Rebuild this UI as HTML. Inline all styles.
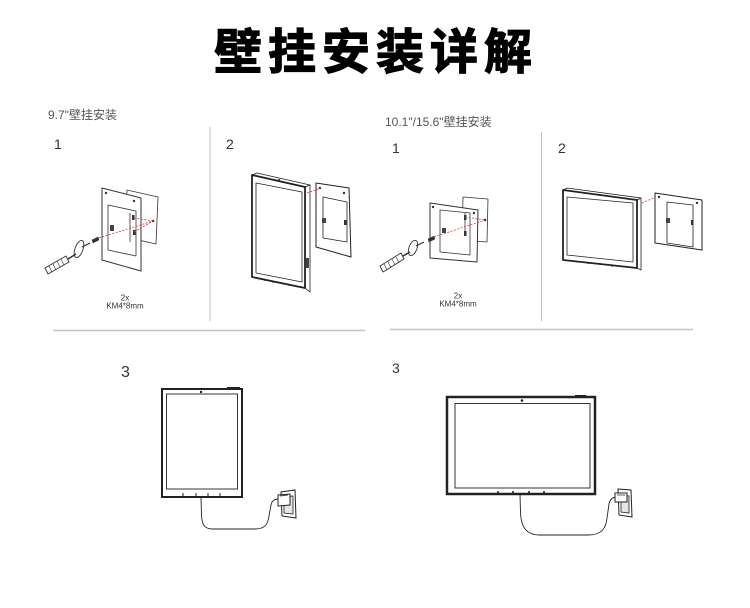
<!DOCTYPE html>
<html><head><meta charset="utf-8"><style>
html,body{margin:0;padding:0;background:#fff;width:750px;height:608px;overflow:hidden}
svg{display:block}
text{font-family:"Liberation Sans","Noto Sans CJK SC",sans-serif}
</style></head><body>
<svg width="750" height="608" viewBox="0 0 750 608" xmlns="http://www.w3.org/2000/svg">
<rect width="750" height="608" fill="#fff"/>
<!-- Title -->
<text x="214" y="68.5" font-size="48" font-weight="bold" fill="#000" stroke="#000" stroke-width="1.2" letter-spacing="6" style='font-family:"Noto Sans CJK SC","WenQuanYi Zen Hei",sans-serif'>壁挂安装详解</text>

<!-- subtitles -->
<text x="48" y="119" font-size="12" fill="#555">9.7"壁挂安装</text>
<text x="385" y="126" font-size="12" fill="#555">10.1"/15.6"壁挂安装</text>

<!-- numbers -->
<g fill="#333" font-size="14">
<text x="54" y="149">1</text>
<text x="226" y="149">2</text>
<text x="392" y="153">1</text>
<text x="558" y="153">2</text>
<text x="121" y="377" font-size="16">3</text>
<text x="392" y="373">3</text>
</g>

<!-- dividers -->
<line x1="210" y1="127" x2="210" y2="321" stroke="#bdbdbd" stroke-width="1"/>
<line x1="541.5" y1="132" x2="541.5" y2="321" stroke="#bdbdbd" stroke-width="1"/>
<line x1="53" y1="330.5" x2="365" y2="330.5" stroke="#c4c4c4" stroke-width="1.5"/>
<line x1="390" y1="329.5" x2="693" y2="329.5" stroke="#c4c4c4" stroke-width="1.5"/>

<!-- LEFT STEP 1 -->
<g stroke="#333" stroke-linejoin="round">
<polygon points="127,190 158,197 156,244 125,237" fill="#fff" stroke-width="0.8"/>
<polygon points="102,188 141,198 141,271 102,260" fill="#fff" stroke-width="1"/>
<polygon points="108,205 136,211 136,256 108,250" fill="none" stroke-width="0.8"/>
<line x1="130" y1="213" x2="130" y2="242" stroke-width="0.8"/>
<circle cx="106" cy="193" r="1.2" fill="#333" stroke="none"/>
<circle cx="134" cy="201" r="1.2" fill="#333" stroke="none"/>
<rect x="110" y="225" width="4" height="6" fill="#444" stroke="none"/>
<rect x="132" y="215" width="2.5" height="5" fill="#333" stroke="none"/>
<rect x="133" y="230" width="2.5" height="5" fill="#333" stroke="none"/>
<circle cx="153" cy="221" r="1.3" fill="#333" stroke="none"/>
<!-- screwdriver -->
<polygon points="45,268 66,256 69,262 48,274" fill="#fff" stroke-width="0.9"/>
<line x1="49" y1="266" x2="52" y2="272" stroke-width="0.6"/>
<line x1="53" y1="264" x2="56" y2="270" stroke-width="0.6"/>
<line x1="57" y1="261" x2="60" y2="267" stroke-width="0.6"/>
<line x1="61" y1="259" x2="64" y2="265" stroke-width="0.6"/>
<line x1="68" y1="259" x2="76" y2="254" stroke-width="1.5"/>
<ellipse cx="79" cy="249" rx="4" ry="9" transform="rotate(20 79 249)" fill="none" stroke-width="0.9"/>
<line x1="82" y1="247" x2="90" y2="243" stroke-width="1.2"/>
<polygon points="92,240 98,237 99,240 93,243" fill="#333" stroke-width="0.5"/>
</g>
<g stroke="#d84040" stroke-width="0.8" stroke-dasharray="2,1.5" fill="none">
<line x1="99" y1="238" x2="153" y2="221"/>
<line x1="134" y1="218" x2="153" y2="221"/>
<line x1="134" y1="232" x2="153" y2="221"/>
</g>
<text x="125" y="300.5" font-size="8" fill="#333" text-anchor="middle">2x</text>
<text x="125" y="308.5" font-size="8" fill="#333" text-anchor="middle">KM4*8mm</text>

<!-- LEFT STEP 2 -->
<g stroke="#222" stroke-linejoin="round">
<polygon points="252,175 257,173 310,185 305,187" fill="#fff" stroke-width="0.8"/>
<polygon points="305,187 310,185 310,292 305,288" fill="#fff" stroke-width="0.8"/>
<polygon points="252,175 305,187 305,288 252,277" fill="#fff" stroke-width="1.8"/>
<polygon points="256,183 302,192 302,282 256,273" fill="none" stroke-width="0.8"/>
<rect x="306" y="258" width="3" height="10" fill="#444" stroke="none"/>
<circle cx="279" cy="180" r="1" fill="#222" stroke="none"/>
<line x1="265" y1="279" x2="265" y2="281" stroke-width="0.8"/>
<line x1="273" y1="281" x2="273" y2="283" stroke-width="0.8"/>
<line x1="281" y1="282" x2="281" y2="284" stroke-width="0.8"/>
<line x1="289" y1="284" x2="289" y2="286" stroke-width="0.8"/>
<polygon points="316,183 349,188 351,257 316,247" fill="#fff" stroke-width="1"/>
<polygon points="323,197 347,202 347,242 323,238" fill="none" stroke-width="0.8"/>
<circle cx="320" cy="188" r="1.2" fill="#333" stroke="none"/>
<circle cx="344" cy="193" r="1.2" fill="#333" stroke="none"/>
<rect x="322" y="218" width="4" height="5" fill="#444" stroke="none"/>
<rect x="344" y="220" width="2.5" height="5" fill="#333" stroke="none"/>
</g>
<line x1="307" y1="193" x2="321" y2="188" stroke="#d84040" stroke-width="0.8" stroke-dasharray="2,1.5"/>

<!-- RIGHT STEP 1 -->
<g stroke="#333" stroke-linejoin="round">
<polygon points="463,197 488,199 487,242 462,240" fill="#fff" stroke-width="0.8"/>
<polygon points="430,203 478,210 477,262 430,258" fill="#fff" stroke-width="1"/>
<polygon points="440,210 470,213 470,255 440,252" fill="none" stroke-width="0.8"/>
<line x1="465" y1="213" x2="465" y2="235" stroke-width="0.8"/>
<circle cx="433" cy="207" r="1.2" fill="#333" stroke="none"/>
<circle cx="474" cy="213" r="1.2" fill="#333" stroke="none"/>
<rect x="442" y="228" width="4" height="5" fill="#444" stroke="none"/>
<rect x="464" y="215" width="2.5" height="5" fill="#333" stroke="none"/>
<rect x="464" y="231" width="2.5" height="5" fill="#333" stroke="none"/>
<circle cx="485" cy="220" r="1.3" fill="#333" stroke="none"/>
<polygon points="380,266 401,253 404,259 383,272" fill="#fff" stroke-width="0.9"/>
<line x1="384" y1="264" x2="387" y2="270" stroke-width="0.6"/>
<line x1="388" y1="262" x2="391" y2="268" stroke-width="0.6"/>
<line x1="392" y1="259" x2="395" y2="265" stroke-width="0.6"/>
<line x1="396" y1="257" x2="399" y2="263" stroke-width="0.6"/>
<line x1="403" y1="256" x2="410" y2="252" stroke-width="1.5"/>
<ellipse cx="413" cy="248" rx="4" ry="8" transform="rotate(20 413 248)" fill="none" stroke-width="0.9"/>
<line x1="416" y1="246" x2="424" y2="242" stroke-width="1.2"/>
<polygon points="428,239 434,236 435,239 429,242" fill="#333" stroke-width="0.5"/>
</g>
<g stroke="#d84040" stroke-width="0.8" stroke-dasharray="2,1.5" fill="none">
<line x1="434" y1="237" x2="485" y2="220"/>
<line x1="465" y1="217" x2="485" y2="220"/>
</g>
<text x="458" y="298.5" font-size="8" fill="#333" text-anchor="middle">2x</text>
<text x="458" y="306.5" font-size="8" fill="#333" text-anchor="middle">KM4*8mm</text>

<!-- RIGHT STEP 2 -->
<g stroke="#222" stroke-linejoin="round">
<polygon points="563,190 567,188 641,198 637,200" fill="#fff" stroke-width="0.8"/>
<polygon points="637,200 641,198 641,270 637,268" fill="#fff" stroke-width="0.8"/>
<polygon points="563,190 637,200 637,268 563,260" fill="#fff" stroke-width="1.8"/>
<polygon points="567,197 633,203 633,262 567,255" fill="none" stroke-width="0.8"/>
<circle cx="600" cy="195" r="1" fill="#222" stroke="none"/>
<line x1="588" y1="262" x2="588" y2="264" stroke-width="0.8"/>
<line x1="600" y1="263" x2="600" y2="265" stroke-width="0.8"/>
<line x1="612" y1="265" x2="612" y2="267" stroke-width="0.8"/>
<polygon points="655,193 702,200 702,250 655,243" fill="#fff" stroke-width="1"/>
<polygon points="667,202 693,205 693,247 667,243" fill="none" stroke-width="0.8"/>
<circle cx="659" cy="197" r="1.2" fill="#333" stroke="none"/>
<circle cx="697" cy="203" r="1.2" fill="#333" stroke="none"/>
<rect x="666" y="218" width="4" height="5" fill="#444" stroke="none"/>
<rect x="691" y="220" width="2.5" height="5" fill="#333" stroke="none"/>
</g>
<line x1="642" y1="203" x2="656" y2="197" stroke="#d84040" stroke-width="0.8" stroke-dasharray="2,1.5"/>

<!-- BOTTOM LEFT tablet -->
<g stroke="#222" fill="none">
<rect x="162" y="389" width="80" height="108" stroke-width="2" fill="#fff"/>
<rect x="166.5" y="394" width="71" height="95" stroke-width="0.9"/>
<line x1="227" y1="388" x2="240" y2="388" stroke-width="2"/>
<circle cx="201" cy="392" r="1.2" fill="#222" stroke="none"/>
<line x1="183" y1="493" x2="183" y2="496" stroke-width="1"/>
<line x1="196" y1="493" x2="196" y2="496" stroke-width="1"/>
<line x1="208" y1="493" x2="208" y2="496" stroke-width="1"/>
<line x1="220" y1="493" x2="220" y2="496" stroke-width="1"/>
<path d="M201,498 L201.5,515 C202,526 205,529 213,529 L255,529 C265,529 268,524 269,516 L271,505 C272,500 275,499 280,499" stroke-width="0.9"/>
<polygon points="281,492 295,490 296,518 282,516" stroke-width="1" fill="#fff"/>
<polygon points="284,497 293,496 293,514 284,513" stroke-width="0.8" fill="#e6e6e6"/>
<polygon points="278,495 290,494 290,505 278,506" stroke-width="1" fill="#fff"/>
<line x1="280" y1="496" x2="288" y2="495" stroke-width="0.7"/>
</g>

<!-- BOTTOM RIGHT monitor -->
<g stroke="#222" fill="none">
<rect x="447" y="397" width="148" height="97" stroke-width="2.5" fill="#fff"/>
<rect x="455" y="403.5" width="135" height="84.5" stroke-width="0.9"/>
<line x1="575" y1="396" x2="586" y2="396" stroke-width="2"/>
<circle cx="522" cy="400.5" r="1.3" fill="#222" stroke="none"/>
<circle cx="498" cy="492" r="1" fill="#222" stroke="none"/>
<circle cx="513" cy="492" r="1" fill="#222" stroke="none"/>
<circle cx="529" cy="492" r="1" fill="#222" stroke="none"/>
<circle cx="544" cy="492" r="1" fill="#222" stroke="none"/>
<path d="M520,495 L520.5,512 C521,527 526,535 540,535 L588,535 C602,535 606,528 607,518 L609,504 C610,499 613,497 617,497" stroke-width="0.9"/>
<polygon points="618,489 631,490 632,517 619,515" stroke-width="1" fill="#fff"/>
<polygon points="621,495 629,496 629,513 621,512" stroke-width="0.8" fill="#e6e6e6"/>
<polygon points="615,493 627,493 627,502 615,502" stroke-width="1" fill="#fff"/>
<line x1="617" y1="495" x2="625" y2="495" stroke-width="0.7"/>
</g>
</svg>
</body></html>
